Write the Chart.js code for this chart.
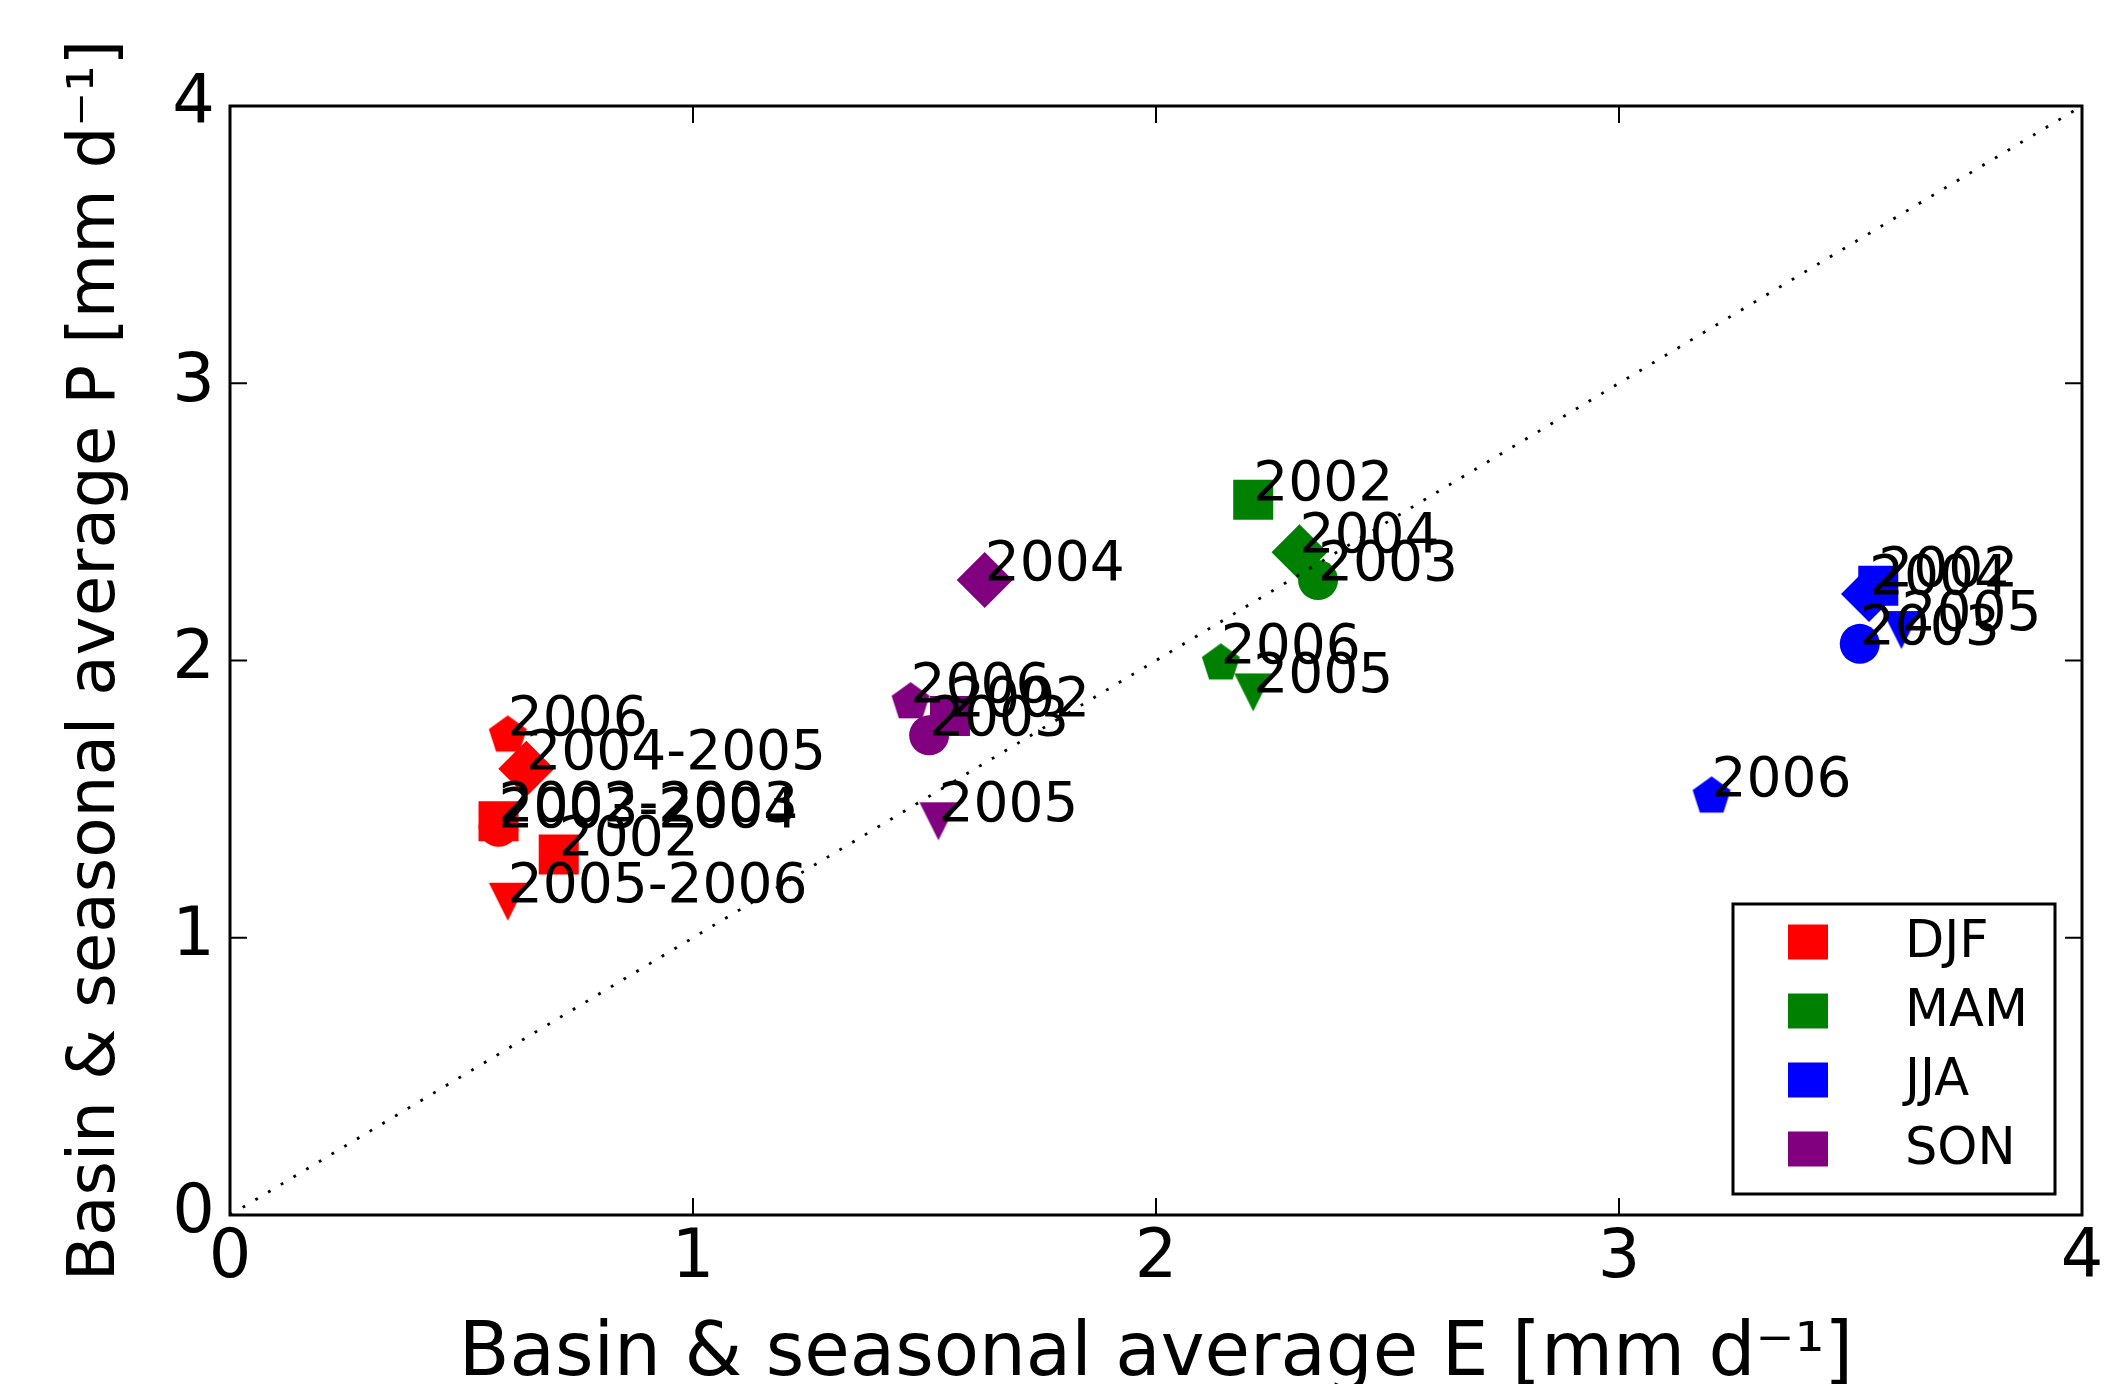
<!DOCTYPE html>
<html>
<head>
<meta charset="utf-8">
<script src="https://cdn.jsdelivr.net/npm/chart.js@4.4.1/dist/chart.umd.min.js"></script>
<style>
  html, body { margin: 0; padding: 0; background: #fff; }
</style>
</head>
<body>
<canvas id="scatter" width="2124" height="1384"></canvas>
<script>
// ---- data ----
const seasons = ['DJF', 'MAM', 'JJA', 'SON'];

const djfYears = ['2002', '2002-2003', '2003-2004', '2004-2005', '2005-2006', '2006'];
const djfE = [0.71, 0.58, 0.58, 0.64, 0.60, 0.60];
const djfP = [1.30, 1.42, 1.40, 1.61, 1.13, 1.73];

const mamYears = ['2002', '2003', '2004', '2005', '2006'];
const mamE = [2.21, 2.35, 2.31, 2.21, 2.14];
const mamP = [2.58, 2.29, 2.39, 1.885, 1.99];

const jjaYears = ['2002', '2003', '2004', '2005', '2006'];
const jjaE = [3.56, 3.52, 3.54, 3.61, 3.20];
const jjaP = [2.27, 2.06, 2.24, 2.11, 1.51];

const sonYears = ['2002', '2003', '2004', '2005', '2006'];
const sonE = [1.555, 1.51, 1.63, 1.53, 1.47];
const sonP = [1.80, 1.73, 2.29, 1.42, 1.85];

const oneToOne = [0, 4];
const axisTicks = [0, 1, 2, 3, 4];

// ---- styling ----
const FONT = 'DejaVu Sans';
Chart.defaults.font.family = FONT;
Chart.defaults.color = '#000';

const seasonColors = ['#ff0000', '#008000', '#0000ff', '#800080'];
// marker by the first year of the label
const yearMarker = { '2002': 'square', '2003': 'circle', '2004': 'diamond', '2005': 'triDown', '2006': 'pentagon' };
const markerRadius = { square: 28.3, circle: 20, diamond: 28, triDown: 20, pentagon: 20 };

function markerCanvas(shape, color) {
  const c = document.createElement('canvas');
  c.width = 44; c.height = 44;
  const g = c.getContext('2d');
  g.fillStyle = color;
  g.beginPath();
  if (shape === 'triDown') {
    g.moveTo(3, 3); g.lineTo(41, 3); g.lineTo(22, 41);
  } else {
    for (let k = 0; k < 5; k++) {
      const a = -Math.PI / 2 + k * 2 * Math.PI / 5;
      const px = 22 + 20 * Math.cos(a), py = 22 + 20 * Math.sin(a);
      if (k === 0) g.moveTo(px, py); else g.lineTo(px, py);
    }
  }
  g.closePath();
  g.fill();
  return c;
}

function pointStyleFor(year, color) {
  const shape = yearMarker[year.slice(0, 4)];
  if (shape === 'square') return 'rect';
  if (shape === 'circle') return 'circle';
  if (shape === 'diamond') return 'rectRot';
  return markerCanvas(shape, color);
}

function seasonDataset(i, years, e, p) {
  const color = seasonColors[i];
  const radii = years.map(y => markerRadius[yearMarker[y.slice(0, 4)]]);
  return {
    label: seasons[i],
    years: years,
    data: e.map((v, j) => ({ x: v, y: p[j] })),
    backgroundColor: color,
    borderColor: color,
    borderWidth: 0,
    pointStyle: years.map(y => pointStyleFor(y, color)),
    pointRadius: radii,
    pointHoverRadius: radii,
    order: 1
  };
}

// year labels next to every point
const yearLabels = {
  id: 'yearLabels',
  afterDatasetsDraw(chart) {
    const ctx = chart.ctx;
    ctx.save();
    ctx.font = '55px "' + FONT + '"';
    ctx.fillStyle = '#000';
    ctx.textAlign = 'left';
    ctx.textBaseline = 'alphabetic';
    chart.data.datasets.forEach((ds, i) => {
      if (!ds.years) return;
      chart.getDatasetMeta(i).data.forEach((el, j) => {
        ctx.fillText(ds.years[j], el.x, el.y);
      });
    });
    ctx.restore();
  }
};

// matplotlib-like frame with inward ticks on all four sides
const frameTicks = {
  id: 'frameTicks',
  afterDraw(chart) {
    const { ctx, chartArea: a, scales } = chart;
    const len = 17;
    ctx.save();
    ctx.strokeStyle = '#000';
    ctx.lineWidth = 2;
    ctx.beginPath();
    scales.x.ticks.forEach(t => {
      const px = scales.x.getPixelForValue(t.value);
      ctx.moveTo(px, a.bottom); ctx.lineTo(px, a.bottom - len);
      ctx.moveTo(px, a.top); ctx.lineTo(px, a.top + len);
    });
    scales.y.ticks.forEach(t => {
      const py = scales.y.getPixelForValue(t.value);
      ctx.moveTo(a.left, py); ctx.lineTo(a.left + len, py);
      ctx.moveTo(a.right, py); ctx.lineTo(a.right - len, py);
    });
    ctx.stroke();
    ctx.lineWidth = 3;
    ctx.strokeRect(a.left, a.top, a.right - a.left, a.bottom - a.top);
    ctx.restore();
  }
};

// boxed legend in the lower right corner
const boxLegend = {
  id: 'boxLegend',
  afterDraw(chart) {
    const { ctx, chartArea: a } = chart;
    const w = 322, h = 290;
    const left = a.right - 27 - w, top = a.bottom - 21 - h;
    ctx.save();
    ctx.fillStyle = '#fff';
    ctx.fillRect(left, top, w, h);
    ctx.strokeStyle = '#000';
    ctx.lineWidth = 3;
    ctx.strokeRect(left, top, w, h);
    ctx.font = '51px "' + FONT + '"';
    ctx.textBaseline = 'middle';
    ctx.textAlign = 'left';
    let row = 0;
    chart.data.datasets.forEach(ds => {
      if (!ds.years) return;
      const cy = top + 38 + row * 69;
      ctx.fillStyle = ds.backgroundColor;
      ctx.fillRect(left + 55, cy - 17.5, 40, 35);
      ctx.fillStyle = '#000';
      ctx.fillText(ds.label, left + 172, cy + 2);
      row++;
    });
    ctx.restore();
  }
};

new Chart(document.getElementById('scatter'), {
  type: 'scatter',
  data: {
    datasets: [
      seasonDataset(0, djfYears, djfE, djfP),
      seasonDataset(1, mamYears, mamE, mamP),
      seasonDataset(2, jjaYears, jjaE, jjaP),
      seasonDataset(3, sonYears, sonE, sonP),
      {
        label: '1:1',
        data: oneToOne.map(v => ({ x: v, y: v })),
        showLine: true,
        borderColor: '#000',
        borderWidth: 2.8,
        borderDash: [2.8, 12],
        pointRadius: 0,
        order: 0
      }
    ]
  },
  options: {
    responsive: false,
    animation: false,
    layout: { padding: { left: 0, top: 106, right: 42, bottom: 0 } },
    plugins: {
      legend: { display: false },
      tooltip: { enabled: false }
    },
    scales: {
      x: {
        type: 'linear',
        min: 0, max: 4,
        afterBuildTicks: s => { s.ticks = axisTicks.map(v => ({ value: v })); },
        ticks: { font: { size: 67 }, color: '#000', padding: 4 },
        grid: { display: false, drawTicks: false },
        border: { display: false },
        title: {
          display: true,
          text: 'Basin & seasonal average E [mm d\u207B\u00B9]',
          font: { size: 74, lineHeight: 0.76 },
          color: '#000',
          padding: { top: 0, bottom: 0 }
        },
        afterFit: s => { s.height = 169; }
      },
      y: {
        type: 'linear',
        min: 0, max: 4,
        afterBuildTicks: s => { s.ticks = axisTicks.map(v => ({ value: v })); },
        ticks: { font: { size: 67 }, color: '#000', padding: 15 },
        grid: { display: false, drawTicks: false },
        border: { display: false },
        title: {
          display: true,
          text: 'Basin & seasonal average P [mm d\u207B\u00B9]',
          font: { size: 66, lineHeight: 1 },
          color: '#000',
          padding: { top: 64, bottom: 0 }
        },
        afterFit: s => { s.width = 230; }
      }
    }
  },
  plugins: [yearLabels, frameTicks, boxLegend]
});
</script>
</body>
</html>
